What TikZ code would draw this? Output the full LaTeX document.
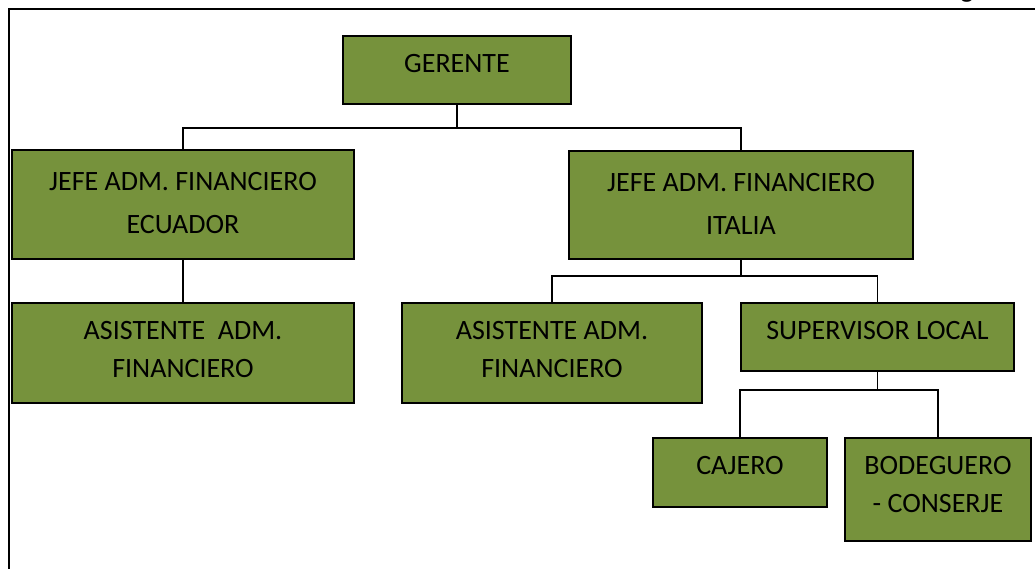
\documentclass[tikz,border=0pt]{standalone}
\usepackage{fontspec}
\setmainfont{Carlito}
\usepackage{xcolor}
\definecolor{olivebox}{RGB}{118,146,60}

% text of a box: fixed height, top aligned
\newcommand{\boxtext}[3][38]{\vbox to #2{\kern 10pt\hbox{\fontsize{28}{#1}\selectfont
  \begin{tabular}{@{}c@{}}#3\end{tabular}}\vss}}

\begin{document}
\begin{tikzpicture}[x=1pt,y=-1pt]
    \tikzstyle{post}=[draw=black,line width=2pt,fill=olivebox,inner sep=0pt,anchor=north west]
    \tikzstyle{link}=[draw,line width=1.3pt,-,black!100]
    \tikzstyle{frame}=[draw,line width=2pt,black!100]
    \useasboundingbox (0,0) rectangle (1035,569);
    \draw[frame] (9,569) -- (9,9) -- (1035,9);
    \node[anchor=base,font=\fontsize{28}{34}\selectfont] (hdr) at (967,-2) {g};
    % boxes
    \node[post,minimum width=228pt,minimum height=68pt] (ger) at (342,35) {\boxtext{68pt}{GERENTE}};
    \node[post,minimum width=342pt,minimum height=109pt] (jec) at (11,149) {\boxtext[43]{109pt}{JEFE ADM. FINANCIERO\\ECUADOR}};
    \node[post,minimum width=344pt,minimum height=108pt] (jit) at (568,150) {\boxtext[43]{108pt}{JEFE ADM. FINANCIERO\\ITALIA}};
    \node[post,minimum width=342pt,minimum height=100pt] (aec) at (11,302) {\boxtext{100pt}{ASISTENTE \ ADM.\\FINANCIERO}};
    \node[post,minimum width=300pt,minimum height=100pt] (ait) at (401,302) {\boxtext{100pt}{ASISTENTE ADM.\\FINANCIERO}};
    \node[post,minimum width=273pt,minimum height=68pt] (sup) at (740,302) {\boxtext{68pt}{SUPERVISOR LOCAL}};
    \node[post,minimum width=174pt,minimum height=69pt] (caj) at (652,437) {\boxtext{69pt}{CAJERO}};
    \node[post,minimum width=186pt,minimum height=103pt] (bod) at (844,437) {\boxtext{103pt}{BODEGUERO\\- CONSERJE}};
    % connectors
    \draw[link] (ger.south) -- ++(0,23) coordinate (b1);
    \draw[link] (jec.north) |- (b1) -| (jit.north);
    \draw[link] (jec.south) -- (aec.north);
    \draw[link] (jit.south) -- ++(0,16) coordinate (b2);
    \draw[link] (ait.north) |- (b2) -| (sup.north);
    \draw[link] (sup.south) -- ++(0,18) coordinate (b3);
    \draw[link] (caj.north) |- (b3) -| (bod.north);
\end{tikzpicture}
\end{document}
